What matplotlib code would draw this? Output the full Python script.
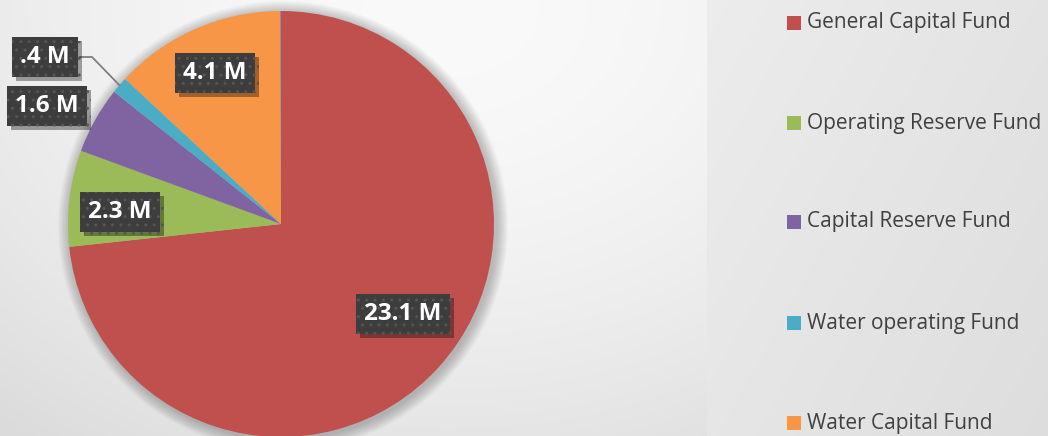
import numpy as np
import matplotlib
matplotlib.use("Agg")
import matplotlib.pyplot as plt
from matplotlib.patches import Rectangle, Circle
import matplotlib.patheffects as pe

# ---- data ----
categories = ["General Capital Fund", "Operating Reserve Fund", "Capital Reserve Fund",
              "Water operating Fund", "Water Capital Fund", ""]
values = [23.1, 2.3, 1.6, 0.4, 4.1, 0.02]
labels = ["23.1 M", "2.3 M", "1.6 M", ".4 M", "4.1 M", ""]
colors = ["#c0504d", "#9bbb59", "#8064a2", "#4bacc6", "#f79646", "#6f86b8"]

W, H = 1048, 436
plt.rcParams['font.family'] = ['Open Sans', 'DejaVu Sans']

fig = plt.figure(figsize=(W / 100, H / 100), dpi=100)

# background gradient
bg = fig.add_axes([0, 0, 1, 1])
yy, xx = np.mgrid[0:H, 0:W]
d = np.sqrt((xx - 450) ** 2 + ((yy - 10) * 1.3) ** 2)
v = 0.98 - 0.12 * np.clip(d / 700, 0, 1) ** 1.7
v = np.where(xx > 706, 0.928 - 0.035 * (xx - 706) / 342 - 0.025 * yy / H, v)
bg.imshow(np.dstack([v, v, v]), extent=[0, W, 0, H], origin='upper', aspect='auto')
bg.axis('off')

ax = fig.add_axes([0, 0, 1, 1])
ax.set_facecolor('none')
cx, cy, R = 281, H - 224, 213

# soft shadow
for k in range(12, 0, -1):
    ax.add_patch(Circle((cx + 2, cy - 2), R + k, color='black', alpha=0.018, lw=0, zorder=0))

wedges, _ = ax.pie(values, colors=colors, startangle=90, counterclock=False,
                   center=(cx, cy), radius=R, wedgeprops=dict(linewidth=0))
ax.set_xlim(0, W)
ax.set_ylim(0, H)
ax.set_aspect('equal')
ax.axis('off')

# label positions (pixels from top-left of the figure)
label_pos = [(403, 314), (120, 212), (47, 106), (45, 57), (215, 73)]

def draw_label(x, y, s):
    t = ax.text(x, H - y, s, ha='center', va='center', fontsize=17.5, fontweight='bold',
                color='white', zorder=5,
                bbox=dict(boxstyle='square,pad=0.33', fc='#3d3d3d', ec='#555555', lw=0, hatch='..'))
    t.get_bbox_patch().set_path_effects([
        pe.SimplePatchShadow(offset=(3, -3), shadow_rgbFace='black', alpha=0.35), pe.Normal()])

for (x, y), lab in zip(label_pos, labels):
    draw_label(x, y, lab)

# leader line for the small slice
w = wedges[3]
th = np.deg2rad((w.theta1 + w.theta2) / 2)
px, py = cx + R * np.cos(th), cy + R * np.sin(th)
ax.plot([80, 92, px], [H - 57, H - 57, py], color='#7f7f7f', lw=1.3, zorder=3)

# legend
rows = [23, 123, 222, 323, 423]
for cat, col, ry in zip(categories[:5], colors[:5], rows):
    ax.add_patch(Rectangle((787, H - ry - 7), 14, 14, color=col, lw=0, zorder=5))
    ax.text(807, H - ry, cat, ha='left', va='center', fontsize=15, color='#404040', zorder=5)

fig.savefig('out.png', dpi=100)
